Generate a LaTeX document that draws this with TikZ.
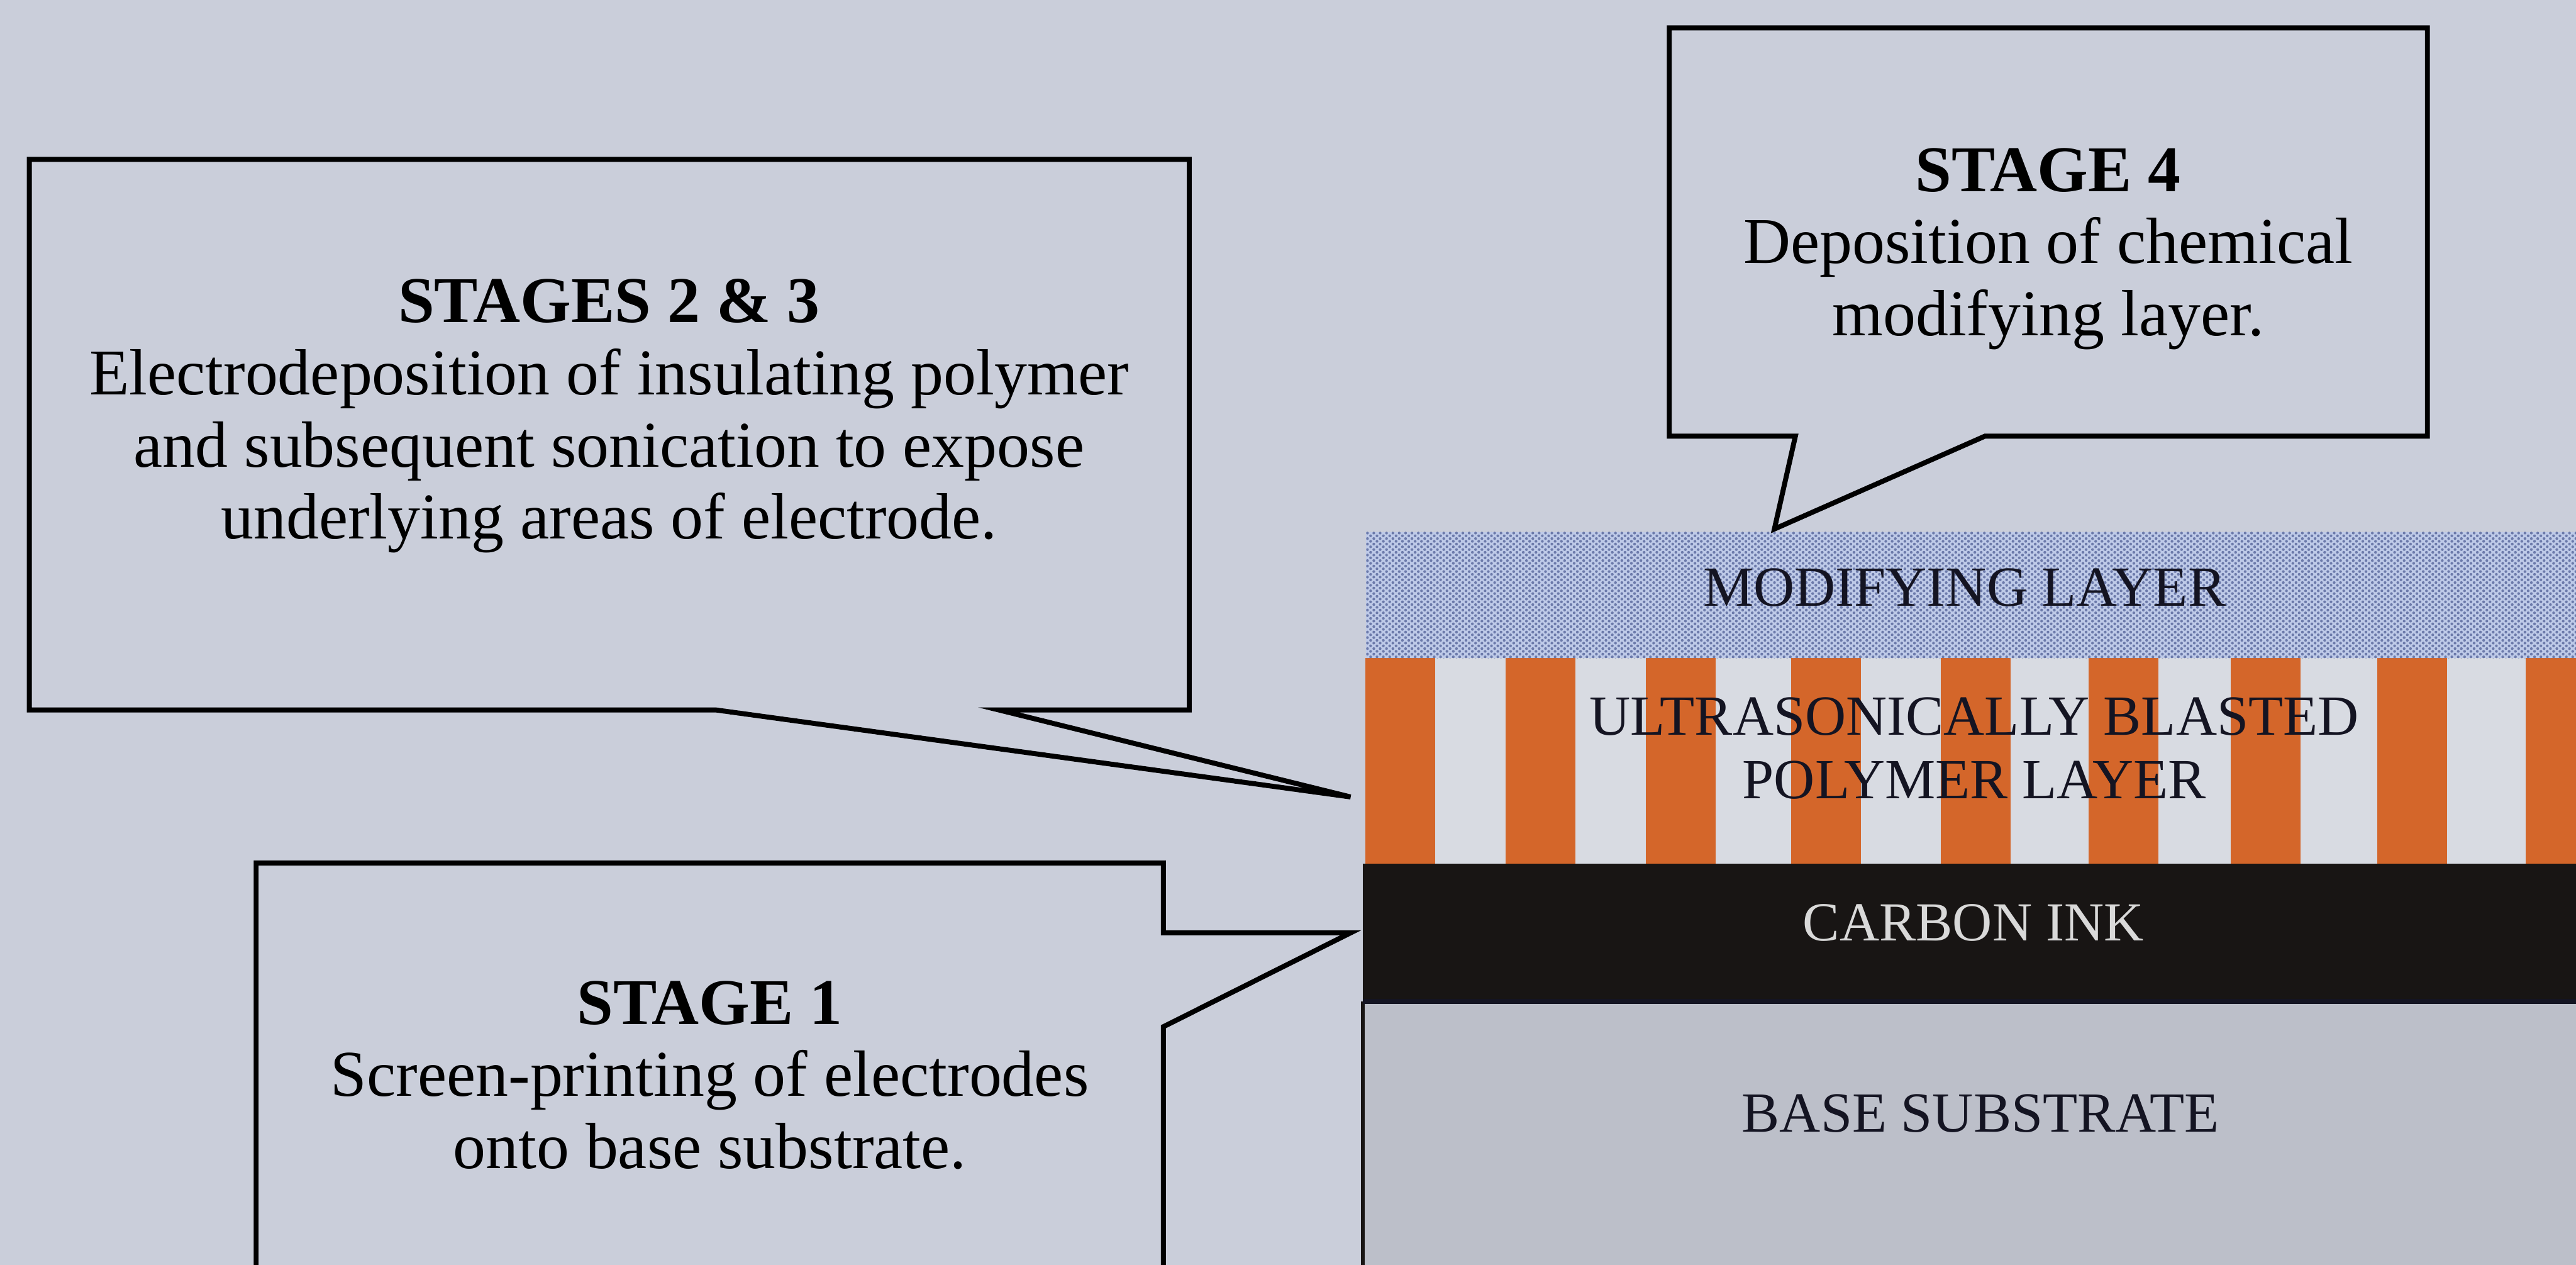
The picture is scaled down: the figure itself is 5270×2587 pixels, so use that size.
\documentclass[tikz,border=0pt]{standalone}
\usepackage{fontspec}
\setmainfont{Liberation Serif}
\usepackage{tikz}
\usetikzlibrary{patterns}

\definecolor{paper}{RGB}{202,206,218}
\definecolor{gapgrey}{RGB}{216,219,226}
\definecolor{basegrey}{RGB}{188,191,201}
\definecolor{inkblack}{RGB}{24,21,20}
\definecolor{polyorange}{RGB}{212,102,42}
\definecolor{modblue}{RGB}{190,202,232}
\definecolor{dotblue}{RGB}{108,122,170}
\definecolor{textnavy}{RGB}{20,20,34}

% staggered dots for the modifying layer
\pgfdeclarepatternformonly{halftone}{\pgfqpoint{-1.2pt}{-1.2pt}}{\pgfqpoint{3pt}{2.8pt}}{\pgfqpoint{3.7pt}{3.2pt}}{%
  \pgfpathcircle{\pgfqpoint{0pt}{0pt}}{0.8pt}
  \pgfpathcircle{\pgfqpoint{1.85pt}{1.6pt}}{0.8pt}
  \pgfusepath{fill}}

\tikzset{
  callout/.style={draw=black, line width=2.9pt, fill=paper, line join=miter},
  stagetext/.style={align=center, inner sep=0pt, text=black,
    font=\fontsize{38}{42}\selectfont},
  layertext/.style={align=center, inner sep=0pt, text=textnavy,
    font=\fontsize{33}{37}\selectfont}
}

\begin{document}
\begin{tikzpicture}[x=0.01cm, y=-0.01cm]
    \useasboundingbox (0,0) rectangle (5270,2587);
    \clip (0,0) rectangle (5270,2587);
    \fill[paper] (0,0) rectangle (5270,2587);

    % layers of the electrode
    \fill[basegrey] (2788,2048) rectangle (5270,2600);
    \fill[inkblack] (2788,1767) rectangle (5270,2048);
    \fill[gapgrey] (2795,1346) rectangle (5270,1767);
    \foreach \x in {2793,3080,3367,3664,3970,4273,4563,4863,5167} {
      \fill[polyorange] (\x,1346) rectangle ++(143,421);
    }
    \fill[modblue] (2795,1088) rectangle (5270,1346);
    \fill[pattern=halftone, pattern color=dotblue] (2795,1088) rectangle (5270,1346);
    \draw[line width=2.4pt, inkblack] (2788,2048) -- (2788,2600);
    \draw[line width=3pt, textnavy] (2788,2048) -- (5270,2048);

    \node[layertext] (modlayer) at (4019,1202) {MODIFYING LAYER};
    \node[layertext] (polylayer) at (4039,1530) {ULTRASONICALLY BLASTED\\POLYMER LAYER};
    \node[layertext, text=black!15, font=\fontsize{32}{36}\selectfont] (carbon) at (4037,1887) {CARBON INK};
    \node[layertext] (base) at (4052,2277) {BASE SUBSTRATE};

    % callouts
    \coordinate (tipA) at (2763,1908);
    \coordinate (tipB) at (2763,1630);
    \coordinate (tipC) at (3630,1082);
    \draw[callout] (524,1765) -- (2380,1765) -- (2380,1908) -- (tipA) -- (2380,2100) -- (2380,2700) -- (524,2700) -- cycle;
    \draw[callout] (60,326) -- (2433,326) -- (2433,1452) -- (2043,1452) -- (tipB) -- (1464,1452) -- (60,1452) -- cycle;
    \draw[callout] (3415,57) -- (4966,57) -- (4966,892) -- (4061,892) -- (tipC) -- (3673,892) -- (3415,892) -- cycle;

    \node[stagetext] (stageone) at (1452,2199) {\textbf{STAGE 1}\\Screen-printing of electrodes\\onto base substrate.};
    \node[stagetext] (stagetwo) at (1246,851) {\textbf{STAGES 2 \& 3}\\Electrodeposition of insulating polymer\\and subsequent sonication to expose\\underlying areas of electrode.};
    \node[stagetext] (stagefour) at (4190,509) {\textbf{STAGE 4}\\Deposition of chemical\\modifying layer.};
\end{tikzpicture}
\end{document}
